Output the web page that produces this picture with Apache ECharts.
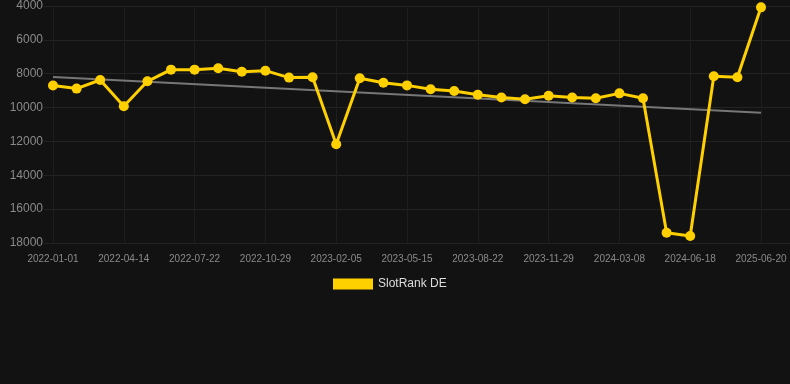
<!DOCTYPE html>
<html>
<head>
<meta charset="utf-8">
<script src="https://cdn.jsdelivr.net/npm/echarts@6/dist/echarts.min.js"></script>
<style>
  html, body { margin: 0; padding: 0; background: #121212; }
  #chart { width: 790px; height: 384px; }
</style>
</head>
<body>
<div id="chart"></div>
<script>
// dates on the x axis (only every third one is labelled)
const dates = [
  '2022-01-01', '2022-02-04', '2022-03-10', '2022-04-14', '2022-05-18', '2022-06-18',
  '2022-07-22', '2022-08-25', '2022-09-26', '2022-10-29', '2022-12-02', '2023-01-04',
  '2023-02-05', '2023-03-11', '2023-04-12', '2023-05-15', '2023-06-18', '2023-07-20',
  '2023-08-22', '2023-09-24', '2023-10-27', '2023-11-29', '2024-01-01', '2024-02-04',
  '2024-03-08', '2024-04-10', '2024-05-14', '2024-06-18', '2024-11-15', '2025-03-05',
  '2025-06-20'
];

// rank values
const rankDE = [
  8700, 8880, 8370, 9920, 8450, 7760, 7760, 7680, 7880, 7820, 8230, 8210,
  12170, 8270, 8530, 8690, 8920, 9020, 9240, 9410, 9510, 9300, 9400, 9450,
  9160, 9450, 17390, 17590, 8150, 8210, 4080
];

// trend line end points (first and last date)
const trendStart = 8190;
const trendEnd = 10300;

const trend = dates.map((d, i) => i === 0 ? trendStart : (i === dates.length - 1 ? trendEnd : null));

const font = 'Liberation Sans, Arial, sans-serif';

const chart = echarts.init(document.getElementById('chart'));
chart.setOption({
  backgroundColor: '#121212',
  animation: false,
  grid: [
    { left: 53, right: 29, top: 6, bottom: 141 },
    // wider grid, only for the horizontal grid lines
    { left: 44, right: 0, top: 6, bottom: 141 }
  ],
  legend: {
    data: ['SlotRank DE'],
    top: 273,
    left: 328,
    itemWidth: 40,
    itemHeight: 11,
    icon: 'rect',
    textStyle: { color: '#dddddd', fontSize: 12, fontFamily: font }
  },
  xAxis: [
    {
      type: 'category',
      gridIndex: 0,
      data: dates,
      boundaryGap: false,
      axisLine: { show: false },
      axisTick: { show: false },
      axisLabel: { interval: 2, color: '#8a8a8a', fontSize: 10, margin: 11, fontFamily: font },
      splitLine: { show: true, interval: 2, lineStyle: { color: '#1e1e1e' } }
    },
    { type: 'value', gridIndex: 1, show: false }
  ],
  yAxis: [
    {
      type: 'value',
      gridIndex: 0,
      inverse: true,
      min: 4000,
      max: 18000,
      interval: 2000,
      axisLine: { show: false },
      axisTick: { show: false },
      axisLabel: { color: '#8a8a8a', fontSize: 12, margin: 10, fontFamily: font, formatter: v => String(v) },
      splitLine: { show: false }
    },
    {
      type: 'value',
      gridIndex: 1,
      inverse: true,
      min: 4000,
      max: 18000,
      interval: 2000,
      axisLine: { show: false },
      axisTick: { show: false },
      axisLabel: { show: false },
      splitLine: { lineStyle: { color: '#232323' } }
    }
  ],
  series: [
    {
      name: 'SlotRank DE',
      type: 'line',
      data: rankDE,
      symbol: 'circle',
      symbolSize: 10,
      lineStyle: { color: '#ffd000', width: 3 },
      itemStyle: { color: '#ffd000' },
      z: 3
    },
    {
      name: 'Trend',
      type: 'line',
      data: trend,
      connectNulls: true,
      symbol: 'none',
      lineStyle: { color: '#777777', width: 2 },
      z: 2
    }
  ]
});
</script>
</body>
</html>
